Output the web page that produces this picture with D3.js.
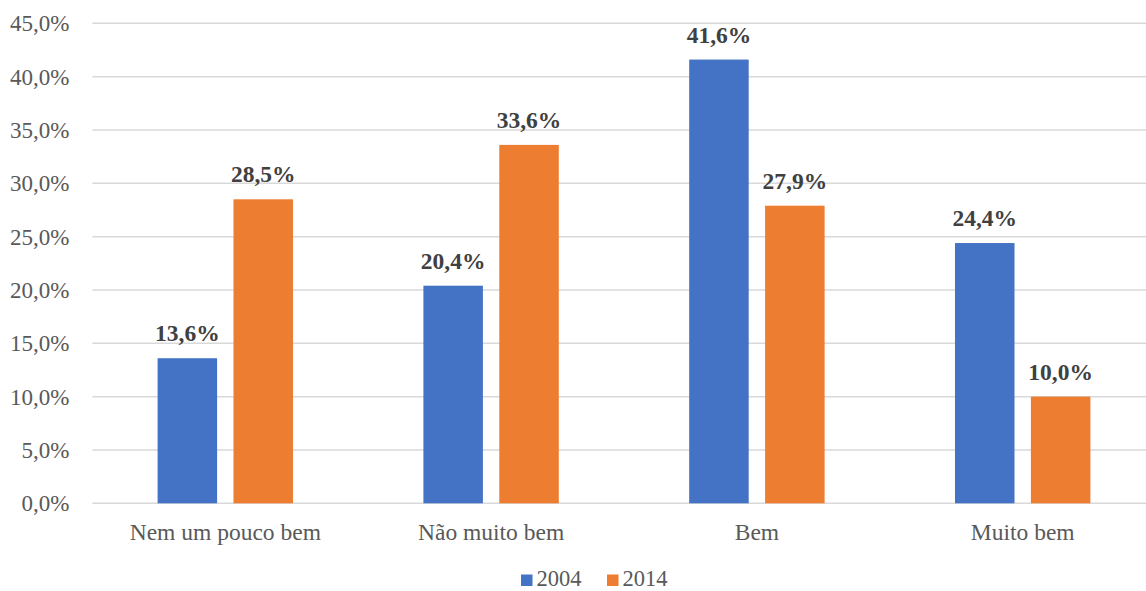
<!DOCTYPE html>
<html>
<head>
<meta charset="utf-8">
<script src="https://cdn.jsdelivr.net/npm/d3@7"></script>
<style>
  html, body { margin: 0; padding: 0; background: #fff; }
  svg { display: block; }
</style>
</head>
<body>
<svg id="chart" width="1146" height="591"></svg>
<script>
// Categories, series and tick values
const categories = ["Nem um pouco bem", "Não muito bem", "Bem", "Muito bem"];
const seriesNames = ["2004", "2014"];
const values2004 = [13.6, 20.4, 41.6, 24.4];
const values2014 = [28.5, 33.6, 27.9, 10.0];
const yTicks = [0, 5, 10, 15, 20, 25, 30, 35, 40, 45];
const colors = ["#4472C4", "#ED7D31"];

const seriesValues = [values2004, values2014];
const rows = categories.map((c, i) => ({
  category: c,
  values: seriesNames.map((s, j) => ({ series: s, value: seriesValues[j][i], color: colors[j] }))
}));

const svg = d3.select("#chart");
const fontFamily = "'Liberation Serif', 'Times New Roman', serif";

const plotLeft = 92.4, plotRight = 1155.6, plotTop = 23.3, plotBottom = 503.3;

const x0 = d3.scaleBand().domain(categories).range([plotLeft, plotRight]).paddingInner(0).paddingOuter(0);
const x1 = d3.scaleBand().domain(seriesNames).range([0, x0.bandwidth()]).paddingInner(0.216).paddingOuter(0.859);
const y = d3.scaleLinear().domain([0, 45]).range([plotBottom, plotTop]);

const fmt = v => d3.format(".1f")(v).replace(".", ",") + "%";

// Gridlines
svg.append("g")
  .selectAll("line")
  .data(yTicks)
  .join("line")
  .attr("x1", plotLeft)
  .attr("x2", plotRight)
  .attr("y1", d => y(d))
  .attr("y2", d => y(d))
  .attr("stroke", "#d9d9d9")
  .attr("stroke-width", 1.5);

// Y axis labels
const yAxis = d3.axisLeft(y).tickValues(yTicks).tickSize(0).tickPadding(0).tickFormat(fmt);
const gy = svg.append("g").attr("transform", `translate(69.5,0)`).call(yAxis);
gy.select(".domain").remove();
gy.selectAll("text")
  .attr("font-family", fontFamily)
  .attr("font-size", 23)
  .attr("fill", "#595959")
  .attr("dy", "0.32em");

// Bars
const groups = svg.append("g")
  .selectAll("g")
  .data(rows)
  .join("g")
  .attr("transform", d => `translate(${x0(d.category)},0)`);

groups.selectAll("rect")
  .data(d => d.values)
  .join("rect")
  .attr("x", d => x1(d.series))
  .attr("width", x1.bandwidth())
  .attr("y", d => y(d.value))
  .attr("height", d => y(0) - y(d.value))
  .attr("fill", d => d.color);

// Value labels
groups.selectAll("text")
  .data(d => d.values)
  .join("text")
  .attr("x", d => x1(d.series) + x1.bandwidth() / 2)
  .attr("y", d => y(d.value) - 17)
  .attr("text-anchor", "middle")
  .attr("font-family", fontFamily)
  .attr("font-weight", "bold")
  .attr("font-size", 23.5)
  .attr("fill", "#404040")
  .text(d => fmt(d.value));

// Category labels
const xAxis = d3.axisBottom(x0).tickSize(0).tickPadding(0);
const gx = svg.append("g").attr("transform", `translate(0,540)`).call(xAxis);
gx.select(".domain").remove();
gx.selectAll("text")
  .attr("font-family", fontFamily)
  .attr("font-size", 23.5)
  .attr("fill", "#595959")
  .attr("dy", 0);

// Legend
const legendX = [521, 607];
const legend = svg.append("g")
  .selectAll("g")
  .data(seriesNames)
  .join("g")
  .attr("transform", (d, i) => `translate(${legendX[i]},574.5)`);
legend.append("rect")
  .attr("width", 11.5)
  .attr("height", 11.5)
  .attr("fill", (d, i) => colors[i]);
legend.append("text")
  .attr("x", 15.5)
  .attr("y", 11.5)
  .attr("font-family", fontFamily)
  .attr("font-size", 22.5)
  .attr("fill", "#595959")
  .text(d => d);
</script>
</body>
</html>
